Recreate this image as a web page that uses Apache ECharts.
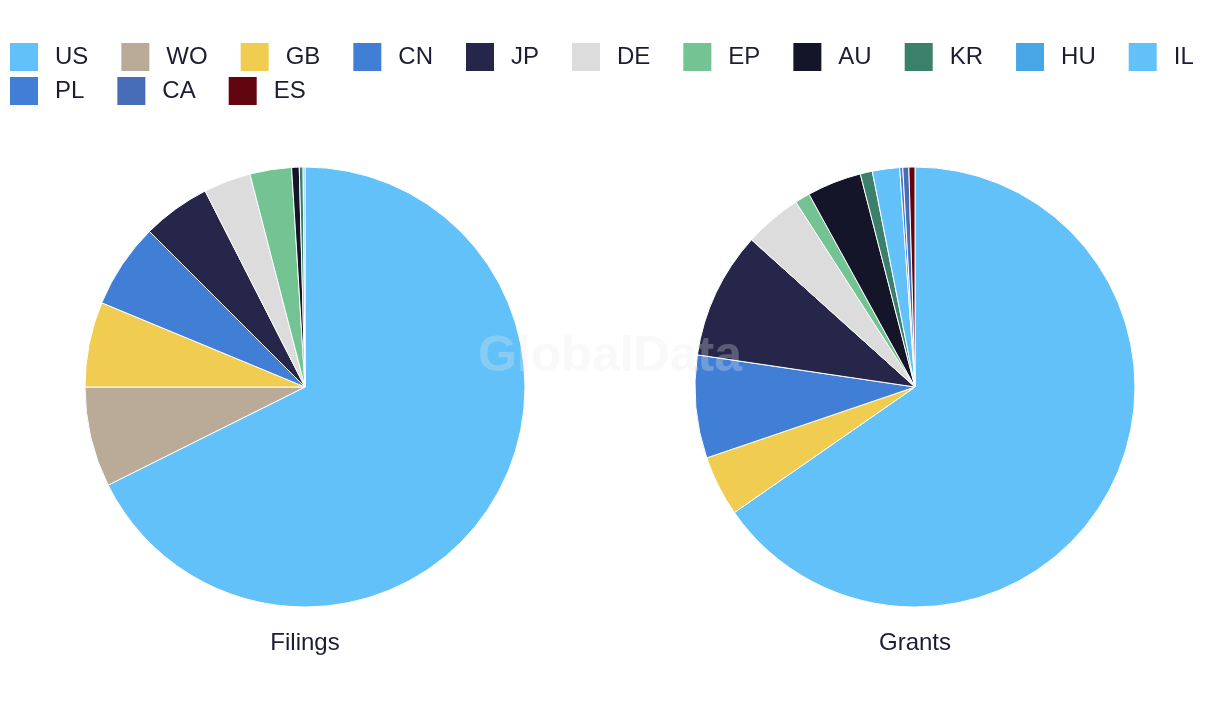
<!DOCTYPE html>
<html>
<head>
<meta charset="utf-8">
<script src="https://cdn.jsdelivr.net/npm/echarts@6/dist/echarts.min.js"></script>
<style>
  html, body { margin: 0; padding: 0; background: #ffffff; }
  #chart { width: 1220px; height: 720px; }
</style>
</head>
<body>
<div id="chart"></div>
<script>
// Categories (legend order) and colours
const categories = ['US', 'WO', 'GB', 'CN', 'JP', 'DE', 'EP', 'AU', 'KR', 'HU', 'IL', 'PL', 'CA', 'ES'];
const colors = ['#62c1f9', '#b9ab98', '#f0cd50', '#417fd6', '#26264a', '#dcdcdc', '#74c493',
                '#141529', '#3a806b', '#48a5e6', '#62c1f9', '#417fd6', '#466db5', '#62050f'];
// Series values
const filings = [487, 53, 45, 45, 36, 25, 22, 4, 2, 0, 1, 0, 0, 0];
const grants  = [294, 0, 20, 34, 42, 19, 5, 18, 4, 0, 9, 1, 2, 2];
const seriesNames = ['Filings', 'Grants'];

const textColor = '#1c1c33';
const fontFamily = '"Liberation Sans", Arial, sans-serif';

function buildData(values) {
  return categories.map((c, i) => ({
    name: c,
    value: values[i] === 0 ? '-' : values[i],
    itemStyle: { color: colors[i] }
  }));
}

const legendBase = {
  orient: 'horizontal',
  left: 10,
  padding: 0,
  icon: 'rect',
  itemWidth: 28,
  itemHeight: 28,
  itemGap: 33,
  selectedMode: false,
  itemStyle: { borderWidth: 0 },
  textStyle: {
    fontSize: 24,
    color: textColor,
    fontFamily: fontFamily,
    padding: [0, 0, 0, 12]
  }
};

const titleStyle = { fontSize: 24, fontWeight: 'normal', color: textColor, fontFamily: fontFamily };

const chart = echarts.init(document.getElementById('chart'), null, { renderer: 'canvas' });
chart.setOption({
  backgroundColor: '#ffffff',
  animation: false,
  color: colors,
  legend: [
    Object.assign({}, legendBase, { top: 43, data: categories.slice(0, 11) }),
    Object.assign({}, legendBase, { top: 77, data: categories.slice(11) })
  ],
  title: [
    { text: seriesNames[0], left: 305, top: 631, padding: 0, textAlign: 'center', textStyle: titleStyle },
    { text: seriesNames[1], left: 915, top: 631, padding: 0, textAlign: 'center', textStyle: titleStyle }
  ],
  graphic: [{
    type: 'text',
    left: 'center',
    top: 332,
    z: 100,
    silent: true,
    style: {
      text: 'GlobalData',
      font: 'bold 50px "Liberation Sans", Arial, sans-serif',
      fill: 'rgba(235,235,235,0.28)'
    }
  }],
  series: [
    {
      name: seriesNames[0],
      type: 'pie',
      center: [305, 387],
      radius: [0, 220],
      startAngle: 90,
      clockwise: true,
      label: { show: false },
      labelLine: { show: false },
      emphasis: { disabled: true },
      itemStyle: { borderColor: '#ffffff', borderWidth: 1 },
      data: buildData(filings)
    },
    {
      name: seriesNames[1],
      type: 'pie',
      center: [915, 387],
      radius: [0, 220],
      startAngle: 90,
      clockwise: true,
      label: { show: false },
      labelLine: { show: false },
      emphasis: { disabled: true },
      itemStyle: { borderColor: '#ffffff', borderWidth: 1 },
      data: buildData(grants)
    }
  ]
});
</script>
</body>
</html>
